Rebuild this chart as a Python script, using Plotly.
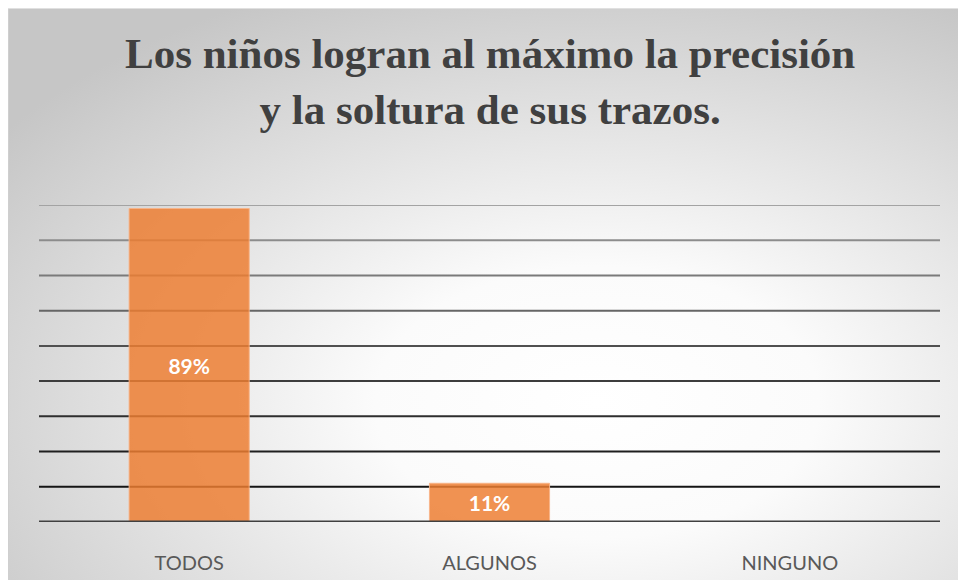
import base64
import plotly.graph_objects as go

# datos del grafico
categorias = ["TODOS", "ALGUNOS", "NINGUNO"]
porcentajes = [0.89, 0.11, 0.0]
etiquetas = ["89%", "11%", ""]

# lineas de la cuadricula (0 a 90%) y su tono, de abajo hacia arriba
niveles = [0.1, 0.2, 0.3, 0.4, 0.5, 0.6, 0.7, 0.8, 0.9]
tonos = ["#151515", "#1f1f1f", "#2e2e2e", "#3d3d3d", "#505050",
         "#666666", "#7a7a7a", "#8c8c8c", "#a3a3a3"]

W, H = 950, 580
ml, mr, mt, mb = 31, 18, 197, 66
pw, ph = W - ml - mr, H - mt - mb

# fondo con degradado radial (como en Excel)
svg = f"""<svg xmlns='http://www.w3.org/2000/svg' width='{W}' height='{H}' viewBox='0 0 {W} {H}' preserveAspectRatio='none'>
<defs><radialGradient id='g' cx='0.62' cy='0.68' r='0.78' fx='0.62' fy='0.68'>
<stop offset='0' stop-color='#ffffff'/><stop offset='0.3' stop-color='#fbfbfb'/>
<stop offset='1' stop-color='#c6c6c6'/></radialGradient></defs>
<rect width='{W}' height='{H}' fill='url(#g)'/>
<line x1='0.5' y1='0' x2='0.5' y2='{H}' stroke='#cfcfcf'/>
<line x1='0' y1='0.5' x2='{W}' y2='0.5' stroke='#e0e0e0'/>
</svg>"""
fondo = "data:image/svg+xml;base64," + base64.b64encode(svg.encode()).decode()

fig = go.Figure()
fig.add_trace(go.Bar(
    x=categorias, y=porcentajes, text=etiquetas,
    textposition="inside", insidetextanchor="middle",
    textfont=dict(family="Lato, Noto Sans, sans-serif", size=21, color="white", weight="bold"),
    marker=dict(color="rgba(237,125,49,0.84)", line=dict(color="rgba(248,180,135,0.9)", width=1)),
    width=0.4, hoverinfo="skip",
))

formas = []
for nivel, tono in zip(niveles, tonos):
    formas.append(dict(type="line", xref="paper", yref="y", x0=0, x1=1, y0=nivel, y1=nivel,
                       line=dict(color=tono, width=2), layer="below"))
formas.append(dict(type="line", xref="paper", yref="y", x0=0, x1=1, y0=0, y1=0,
                   line=dict(color="#404040", width=3), layer="above"))

fig.update_layout(
    width=W, height=H,
    margin=dict(l=ml, r=mr, t=mt, b=mb),
    paper_bgcolor="#d0d0d0", plot_bgcolor="rgba(0,0,0,0)",
    images=[dict(source=fondo, xref="paper", yref="paper",
                 x=-ml / pw, y=1 + mt / ph, sizex=W / pw, sizey=H / ph,
                 xanchor="left", yanchor="top", sizing="stretch", layer="below")],
    shapes=formas,
    annotations=[dict(text="<b>Los niños logran al máximo la precisión<br>y la soltura de sus trazos.</b>",
                      font=dict(family="Liberation Serif, Times New Roman, serif", size=43, color="#404040"),
                      xref="paper", yref="paper", x=0.5, xanchor="center",
                      y=1 + (mt - 20) / ph, yanchor="top", showarrow=False, align="center")],
    showlegend=False,
)
fig.update_xaxes(showgrid=False, showline=False, ticks="", ticklen=0, ticklabelstandoff=27,
                 automargin=False,
                 tickfont=dict(family="Lato, Noto Sans, sans-serif", size=20, color="#595959"))
fig.update_yaxes(range=[0, 0.9], showgrid=False, zeroline=False, showticklabels=False,
                 showline=False, ticks="", automargin=False)

# la pagina debe medir 958x580: margen solo arriba y a la izquierda
ajuste = ("document.body.style.margin='8px 0 0 8px';"
          "document.documentElement.style.overflow='hidden';")
fig.write_html("out.html", post_script=ajuste)
